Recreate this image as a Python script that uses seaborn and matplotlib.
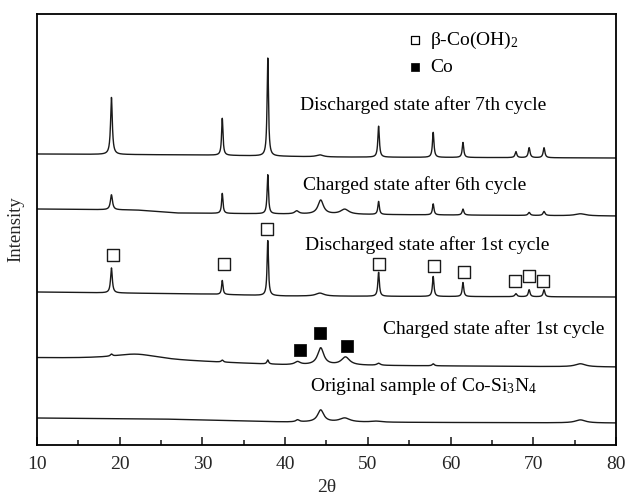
import numpy as np
import pandas as pd
import matplotlib
matplotlib.use("Agg")
import matplotlib.pyplot as plt
import seaborn as sns

# ---- data (heights in arbitrary intensity units) ----
trace_names = ["Discharged state after 7th cycle", "Charged state after 6th cycle",
               "Discharged state after 1st cycle", "Charged state after 1st cycle",
               "Original sample of Co-Si$_3$N$_4$"]

# baseline knots (2theta, intensity)
base7_x = [10, 30, 45, 80];            base7_y = [291, 290, 288, 287]
base6_x = [10, 22, 27, 40, 80];        base6_y = [236, 235, 232, 231, 229]
base1d_x = [10, 30, 40, 80];           base1d_y = [153, 151, 149, 148]
base1c_x = [10, 17, 30, 40, 80];       base1c_y = [87, 86, 83, 80, 78]
base0_x = [10, 25, 30, 40, 80];        base0_y = [27, 26, 25, 23, 22]

# peaks: position, height, FWHM
pk7_pos = [19.0, 32.4, 37.9, 44.2, 51.3, 57.9, 61.5, 67.9, 69.5, 71.3]
pk7_h   = [57, 37, 98, 2, 31, 25, 15, 6, 10, 10]
pk7_w   = [0.25, 0.2, 0.2, 1.0, 0.22, 0.22, 0.22, 0.25, 0.25, 0.25]

pk6_pos = [19.0, 32.4, 37.9, 41.4, 44.3, 47.2, 51.3, 57.9, 61.5, 69.5, 71.3, 75.7]
pk6_h   = [15, 20, 39, 3, 14, 5, 13, 11, 6, 3, 4, 2]
pk6_w   = [0.3, 0.2, 0.2, 0.6, 0.8, 1.2, 0.22, 0.22, 0.25, 0.3, 0.3, 1.5]

pk1d_pos = [19.0, 32.4, 37.9, 44.2, 51.3, 57.9, 61.5, 67.9, 69.5, 71.3]
pk1d_h   = [25, 14, 55, 3, 24, 20, 14, 3, 7, 7]
pk1d_w   = [0.25, 0.2, 0.2, 1.2, 0.22, 0.22, 0.22, 0.3, 0.25, 0.25]

pk1c_pos = [19.0, 22.0, 32.4, 37.9, 41.5, 44.3, 47.3, 51.3, 57.9, 75.7]
pk1c_h   = [2, 6, 2, 4, 3, 17, 8, 2, 2, 3]
pk1c_w   = [0.3, 7.0, 0.3, 0.25, 0.8, 0.9, 1.2, 0.5, 0.3, 1.5]

pk0_pos = [41.5, 44.3, 47.2, 51.0, 75.7]
pk0_h   = [2, 12, 4, 1, 3]
pk0_w   = [0.5, 0.9, 1.5, 1.5, 1.5]

# labels of traces (centre x, centre y)
label_x = [56.7, 55.7, 57.2, 65.2, 56.7]
label_y = [340, 259.5, 200, 116, 59]

# phase markers
beta_x = [19.2, 32.6, 37.8, 51.4, 58.0, 61.6, 67.8, 69.5, 71.2]
beta_y = [190, 181, 216, 181, 179, 173, 164, 169, 164]
co_x = [41.8, 44.2, 47.5]
co_y = [95, 112, 99]

legend_labels = ["β-Co(OH)$_2$", "Co"]
legend_y = [405, 378]

x_ticks = [10, 20, 30, 40, 50, 60, 70, 80]


def build(bx, by, pos, h, w, x):
    y = np.interp(x, bx, by)
    for p, hh, ww in zip(pos, h, w):
        g = (ww / 2) ** 2
        y = y + hh * g / ((x - p) ** 2 + g)
    return y


xs = np.arange(10, 80.001, 0.02)
traces = [
    build(base7_x, base7_y, pk7_pos, pk7_h, pk7_w, xs),
    build(base6_x, base6_y, pk6_pos, pk6_h, pk6_w, xs),
    build(base1d_x, base1d_y, pk1d_pos, pk1d_h, pk1d_w, xs),
    build(base1c_x, base1c_y, pk1c_pos, pk1c_h, pk1c_w, xs),
    build(base0_x, base0_y, pk0_pos, pk0_h, pk0_w, xs),
]
df = pd.concat([pd.DataFrame({"2θ": xs, "I": t, "sample": n})
                for t, n in zip(traces, trace_names)])

sns.set_style("ticks")
plt.rcParams["font.family"] = ["Liberation Serif", "DejaVu Serif"]
plt.rcParams["mathtext.fontset"] = "custom"
plt.rcParams["mathtext.rm"] = "Liberation Serif"
plt.rcParams["mathtext.it"] = "Liberation Serif:italic"
plt.rcParams["mathtext.bf"] = "Liberation Serif:bold"

fig = plt.figure(figsize=(6.25, 4.97), dpi=100)
ax = fig.add_axes([37 / 625, 52 / 497, 579 / 625, 431 / 497])

sns.lineplot(data=df, x="2θ", y="I", units="sample", estimator=None,
             color="#1a1a1a", linewidth=1.0, ax=ax, legend=False, sort=False)

sns.scatterplot(x=beta_x, y=beta_y, marker="s", s=70, facecolor="white",
                edgecolor="#1a1a1a", linewidth=1.0, ax=ax, zorder=3)
sns.scatterplot(x=co_x, y=co_y, marker="s", s=70, color="black",
                edgecolor="black", linewidth=0.5, ax=ax, zorder=3)

# legend-like annotation
sns.scatterplot(x=[55.7], y=[legend_y[0]], marker="s", s=40, facecolor="white",
                edgecolor="black", linewidth=0.9, ax=ax, zorder=3)
sns.scatterplot(x=[55.7], y=[legend_y[1]], marker="s", s=40, color="black",
                edgecolor="black", linewidth=0.5, ax=ax, zorder=3)
for lab, yy in zip(legend_labels, legend_y):
    ax.text(57.5, yy, lab, fontsize=14, ha="left", va="center", color="black")

for name, lx, ly in zip(trace_names, label_x, label_y):
    ax.text(lx, ly, name, fontsize=14, ha="center", va="center", color="black")

ax.set_xlim(10, 80)
ax.set_ylim(0, 431)
ax.set_xticks(x_ticks)
ax.set_xticks(np.arange(15, 80, 10), minor=True)
ax.set_yticks([])
ax.tick_params(axis="x", which="major", direction="in", length=6, width=1.2,
               labelsize=14, pad=8, top=False)
ax.tick_params(axis="x", which="minor", direction="in", length=3.5, width=1.2, top=False)
for s in ax.spines.values():
    s.set_linewidth(1.3)
    s.set_color("black")
ax.set_xlabel("2θ", fontsize=14, labelpad=4)
ax.set_ylabel("Intensity", fontsize=13.5, labelpad=9)

fig.savefig("out.png", dpi=100)
